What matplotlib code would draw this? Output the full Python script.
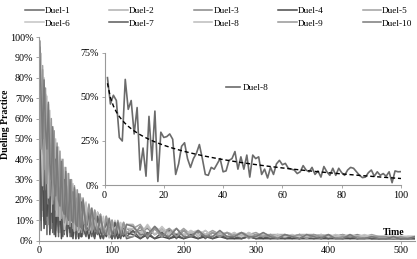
import numpy as np
import matplotlib.pyplot as plt
from matplotlib.ticker import FuncFormatter

plt.rcParams['font.family'] = ['Liberation Serif', 'DejaVu Serif']

# sampled time steps of the main chart
times = list(range(1, 62, 2)) + list(range(65, 122, 4)) + list(range(130, 521, 10))

# Duel-8, first 100 steps (inset), in %
duel8_inset = [61, 46, 51, 48, 27, 25, 60, 43, 48, 29,
               44, 8.5, 21, 5, 39, 14, 42, 2, 30, 27,
               27.5, 29, 26, 6, 12, 22, 24, 15, 10, 15,
               18, 23, 15, 6, 5.5, 10, 9, 12, 15, 7.5,
               8, 14, 15, 19, 9, 16, 9, 17, 4.5, 17,
               15, 16, 6, 9, 4, 10, 6, 12, 14, 11.5,
               12.3, 9.5, 9, 8.5, 6.5, 7.5, 11, 8.5, 7.5, 10,
               6, 8, 4.5, 10.5, 7.5, 5.5, 9.5, 5.5, 9.5, 7,
               5.5, 8.5, 10, 9.5, 7.5, 5.5, 4.2, 4.5, 7, 8.5,
               5, 7.5, 5.5, 6.5, 5, 7.5, 1.3, 8, 7.5, 7.6]
duel8_late = [7, 6, 8, 5, 7, 6,
              6, 4, 7, 3, 5, 4, 6, 3, 4, 5, 3, 4, 3, 4, 2, 3, 3, 2, 3, 3,
              2, 3, 2, 3, 2, 2, 3, 2, 2, 2, 3, 2, 2, 2, 2, 2, 2, 2, 2, 2]

duel1 = [42, 5, 80, 10, 70, 3, 62, 12, 55, 4, 50, 8, 44, 2, 38, 6, 34, 3, 30, 7, 28, 2, 26, 5, 23, 1, 21, 4, 19, 2, 18,
         4, 16, 2, 14, 3, 12, 1, 11, 2, 10, 1, 9, 2, 8, 1,
         2, 7, 1, 6, 2, 5, 1, 5, 2, 4, 1, 4, 2, 4, 1, 3, 2, 3, 1, 3, 2, 3, 1, 3, 2, 3, 1, 2, 2, 3, 1, 2, 2, 2, 1, 2, 1, 2, 1, 2]
duel2 = [90, 30, 12, 75, 20, 66, 8, 58, 15, 52, 6, 47, 10, 42, 4, 38, 9, 33, 5, 30, 8, 27, 3, 25, 7, 23, 2, 21, 6, 19, 3,
         18, 4, 15, 3, 13, 5, 11, 2, 10, 4, 9, 2, 8, 3, 8,
         8, 2, 7, 3, 6, 2, 6, 2, 5, 2, 5, 2, 4, 2, 4, 1, 4, 2, 3, 1, 3, 2, 3, 1, 3, 2, 3, 1, 3, 2, 2, 1, 2, 2, 2, 1, 2, 1, 2, 1]
duel3 = [70, 88, 15, 60, 72, 10, 55, 48, 6, 50, 40, 5, 44, 30, 8, 36, 28, 4, 32, 22, 6, 27, 20, 3, 24, 18, 5, 20, 15, 2, 18,
         3, 17, 12, 2, 14, 10, 2, 11, 8, 1, 9, 7, 2, 8, 6,
         4, 5, 6, 3, 5, 4, 3, 5, 3, 4, 2, 4, 3, 2, 3, 3, 2, 3, 3, 2, 3, 2, 2, 3, 2, 2, 3, 2, 2, 2, 2, 3, 2, 1, 2, 2, 2, 1, 2, 2]
duel4 = [98, 20, 40, 6, 35, 12, 30, 3, 25, 9, 22, 2, 20, 7, 18, 1, 16, 5, 14, 2, 13, 4, 12, 1, 11, 3, 10, 1, 9, 2, 8,
         8, 1, 7, 2, 6, 1, 6, 2, 5, 1, 5, 1, 4, 2, 4,
         3, 1, 3, 1, 2, 1, 2, 1, 2, 1, 2, 1, 2, 1, 1, 1, 2, 1, 1, 1, 1, 1, 1, 1, 1, 1, 1, 1, 1, 1, 1, 1, 1, 1, 1, 1, 1, 1, 1, 1]
duel5 = [85, 60, 86, 25, 70, 40, 62, 18, 54, 30, 48, 12, 43, 25, 39, 10, 35, 20, 32, 8, 29, 16, 27, 6, 24, 14, 22, 5, 21, 12, 19,
         10, 17, 5, 15, 9, 13, 4, 12, 7, 10, 4, 10, 6, 9, 4,
         6, 8, 3, 7, 4, 6, 3, 6, 3, 5, 3, 5, 3, 4, 3, 4, 3, 4, 2, 3, 3, 3, 2, 3, 3, 3, 2, 3, 2, 3, 2, 2, 2, 3, 2, 2, 2, 2, 2, 2]
duel6 = [60, 92, 30, 80, 25, 71, 18, 64, 14, 55, 20, 50, 12, 46, 16, 40, 10, 36, 14, 33, 9, 30, 12, 28, 7, 25, 10, 23, 6, 21, 8,
         19, 6, 16, 5, 14, 6, 12, 4, 11, 5, 10, 3, 9, 4, 8,
         7, 3, 8, 3, 7, 3, 6, 3, 5, 3, 5, 2, 5, 2, 4, 2, 4, 2, 4, 2, 3, 2, 3, 2, 3, 2, 3, 2, 3, 2, 3, 2, 3, 2, 2, 2, 2, 2, 2, 2]
duel7 = [55, 10, 65, 30, 8, 50, 25, 5, 45, 20, 3, 40, 15, 4, 35, 12, 2, 30, 10, 3, 27, 9, 2, 24, 8, 1, 21, 7, 2, 19, 6,
         2, 15, 5, 1, 12, 4, 1, 10, 3, 1, 9, 3, 1, 8, 2,
         5, 1, 4, 1, 4, 1, 3, 1, 3, 1, 3, 1, 3, 1, 2, 1, 2, 1, 2, 1, 2, 1, 2, 1, 2, 1, 2, 1, 2, 1, 2, 1, 2, 1, 1, 1, 1, 1, 1, 1]
duel9 = [78, 45, 84, 35, 75, 28, 67, 22, 60, 18, 54, 15, 48, 12, 44, 11, 40, 9, 36, 8, 33, 7, 30, 6, 27, 5, 25, 5, 23, 4, 21,
         5, 18, 4, 15, 4, 13, 3, 12, 3, 10, 3, 9, 3, 9, 2,
         2, 7, 2, 6, 2, 6, 2, 5, 2, 5, 2, 4, 2, 4, 2, 4, 1, 3, 2, 3, 1, 3, 2, 3, 1, 3, 2, 3, 1, 2, 2, 2, 1, 2, 2, 2, 1, 2, 1, 2]
duel10 = [95, 70, 50, 79, 55, 45, 68, 38, 30, 56, 28, 22, 46, 20, 17, 39, 15, 13, 34, 12, 10, 30, 10, 9, 26, 8, 7, 23, 7, 6, 20,
          6, 5, 16, 5, 4, 12, 4, 3, 11, 3, 3, 9, 3, 3, 8,
          7, 3, 3, 7, 3, 2, 6, 2, 2, 5, 2, 2, 5, 2, 2, 4, 2, 2, 4, 2, 1, 3, 2, 1, 3, 2, 1, 3, 1, 1, 3, 1, 1, 2, 1, 1, 2, 1, 1, 2]

duel8 = [duel8_inset[t - 1] for t in times if t <= 100] + duel8_late

names = ['Duel-%d' % i for i in range(1, 11)]
series = [duel1, duel2, duel3, duel4, duel5, duel6, duel7, duel8, duel9, duel10]
colors = ['#666666', '#b0b0b0', '#888888', '#4a4a4a', '#a0a0a0',
          '#c4c4c4', '#5a5a5a', '#bcbcbc', '#979797', '#7a7a7a']

fig = plt.figure(figsize=(4.17, 2.59), dpi=100)
ax = fig.add_axes([0.0935, 0.0707, 0.902, 0.786])

pct = FuncFormatter(lambda v, p: '%d%%' % round(v * 100))
lines = []
for name, vals, c in zip(names, series, colors):
    l, = ax.plot(times, np.array(vals) / 100, color=c, lw=1.1, label=name)
    lines.append(l)

ax.set_xlim(0, 520)
ax.set_ylim(0, 1)
ax.set_xticks([0, 100, 200, 300, 400, 500])
ax.set_yticks(np.arange(0, 1.01, 0.1))
ax.yaxis.set_major_formatter(pct)
for s in ['top', 'right']:
    ax.spines[s].set_visible(False)
for s in ['left', 'bottom']:
    ax.spines[s].set_color('#999999')
    ax.spines[s].set_linewidth(0.8)
ax.tick_params(labelsize=7.3, length=2, width=0.6, color='#999999', pad=2)

# legend, row-wise order
order = [0, 5, 1, 6, 2, 7, 3, 8, 4, 9]
fig.legend([lines[i] for i in order], [names[i] for i in order], ncol=5,
           loc='upper left', bbox_to_anchor=(0.04, 1.008), frameon=False,
           fontsize=6.7, handlelength=2.0, handletextpad=0.1,
           columnspacing=4.2, labelspacing=0.45)

fig.text(0.014, 0.52, 'Dueling Practice', rotation=90, fontsize=7,
         fontweight='bold', ha='center', va='center')
fig.text(0.943, 0.104, 'Time', fontsize=7, fontweight='bold',
         ha='center', va='center')

# inset: Duel-8 over the first 100 steps with a log trend line
ins = fig.add_axes([0.2506, 0.2857, 0.711, 0.5097])
ins.patch.set_alpha(0)
steps = np.arange(1, len(duel8_inset) + 1)
y8 = np.array(duel8_inset) / 100
ins.plot(steps, y8, color='#6b6b6b', lw=1.2, label='Duel-8')
b, a = np.polyfit(np.log(steps), y8, 1)
ins.plot(steps, a + b * np.log(steps), color='black', lw=1, ls=(0, (3, 2)))
ins.set_xlim(0, 100)
ins.set_ylim(0, 0.75)
ins.set_xticks([0, 20, 40, 60, 80, 100])
ins.set_yticks([0, 0.25, 0.5, 0.75])
ins.yaxis.set_major_formatter(pct)
for s in ['top', 'right']:
    ins.spines[s].set_visible(False)
for s in ['left', 'bottom']:
    ins.spines[s].set_color('#999999')
    ins.spines[s].set_linewidth(0.8)
ins.tick_params(labelsize=7.3, length=2, width=0.6, color='#999999', pad=2)
h, lab = ins.get_legend_handles_labels()
ins.legend(h[:1], lab[:1], loc='center left', bbox_to_anchor=(0.38, 0.735),
           frameon=False, fontsize=6.7, handlelength=1.6, handletextpad=0.2)

fig.savefig('out.png', dpi=100)
